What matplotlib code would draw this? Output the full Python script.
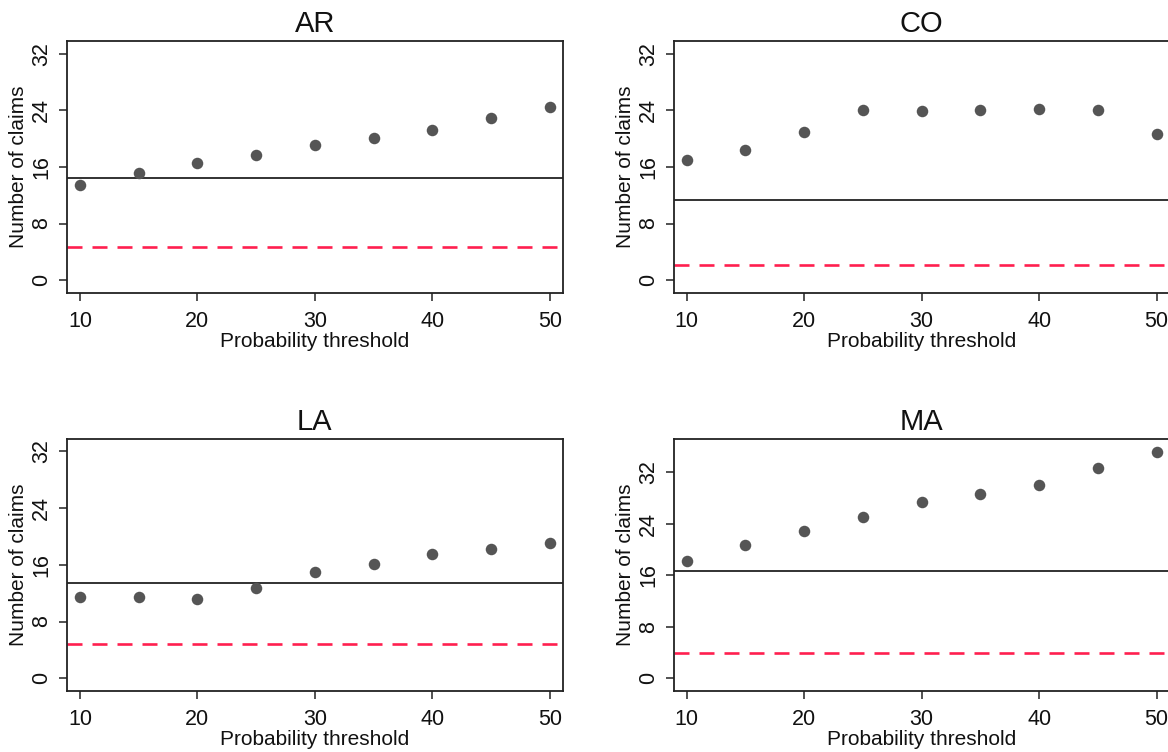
import matplotlib
matplotlib.use("Agg")
import matplotlib.pyplot as plt

plt.rcParams['font.family'] = ['Liberation Sans', 'DejaVu Sans']
plt.rcParams['lines.scale_dashes'] = False

# ---- data ----
thresholds = [10, 15, 20, 25, 30, 35, 40, 45, 50]
states = ["AR", "CO", "LA", "MA"]
claims_ar = [13.5, 15.2, 16.5, 17.7, 19.15, 20.1, 21.3, 22.9, 24.5]
claims_co = [17.0, 18.35, 21.0, 24.0, 23.9, 24.05, 24.2, 24.0, 20.66]
claims_la = [11.53, 11.43, 11.2, 12.75, 14.96, 16.1, 17.55, 18.2, 19.06]
claims_ma = [18.23, 20.77, 22.9, 25.1, 27.3, 28.6, 29.98, 32.6, 35.2]
solid_ref = [14.4, 11.3, 13.5, 16.7]
dashed_ref = [4.67, 2.1, 4.8, 3.9]
xticks = [10, 20, 30, 40, 50]
yticks = [0, 8, 16, 24, 32]

series = [claims_ar, claims_co, claims_la, claims_ma]
ylims = [(-1.88, 33.88), (-1.88, 33.88), (-1.84, 33.8), (-2.02, 37.2)]

W, H = 1168, 752
fig = plt.figure(figsize=(W / 100, H / 100), dpi=100)

lefts = [66.7, 673.5]
tops = [40.7, 438.7]
aw, ah = 496.3, 252.6
positions = [(lefts[0], tops[0]), (lefts[1], tops[0]), (lefts[0], tops[1]), (lefts[1], tops[1])]

for i, (st, ys) in enumerate(zip(states, series)):
    lx, ty = positions[i]
    ax = fig.add_axes([lx / W, 1 - (ty + ah) / H, aw / W, ah / H])
    ax.axhline(solid_ref[i], color='#222222', lw=1.3, zorder=2)
    ax.axhline(dashed_ref[i], color='#FF1F4F', lw=1.9, dashes=(10.8, 7.2), zorder=2)
    ax.plot(thresholds, ys, 'o', color='#555555', markersize=8.3, markeredgewidth=0, zorder=3)
    ax.set_xlim(8.87, 51.13)
    ax.set_ylim(*ylims[i])
    ax.set_xticks(xticks)
    ax.set_yticks(yticks)
    ax.tick_params(axis='both', direction='out', length=5.5, width=1.1, colors='#222222', labelsize=15.5, labelcolor='#111111')
    ax.tick_params(axis='x', pad=7)
    ax.tick_params(axis='y', pad=5)
    for lab in ax.get_yticklabels():
        lab.set_rotation(90)
        lab.set_va('center')
    ax.set_title(st, fontsize=21, pad=6, color='#111111')
    ax.set_xlabel("Probability threshold", fontsize=15, labelpad=0, color='#111111')
    ax.set_ylabel("Number of claims", fontsize=15, labelpad=2, color='#111111')
    for sp in ax.spines.values():
        sp.set_linewidth(1.3)
        sp.set_color('#222222')

fig.savefig("out.png", dpi=100)
